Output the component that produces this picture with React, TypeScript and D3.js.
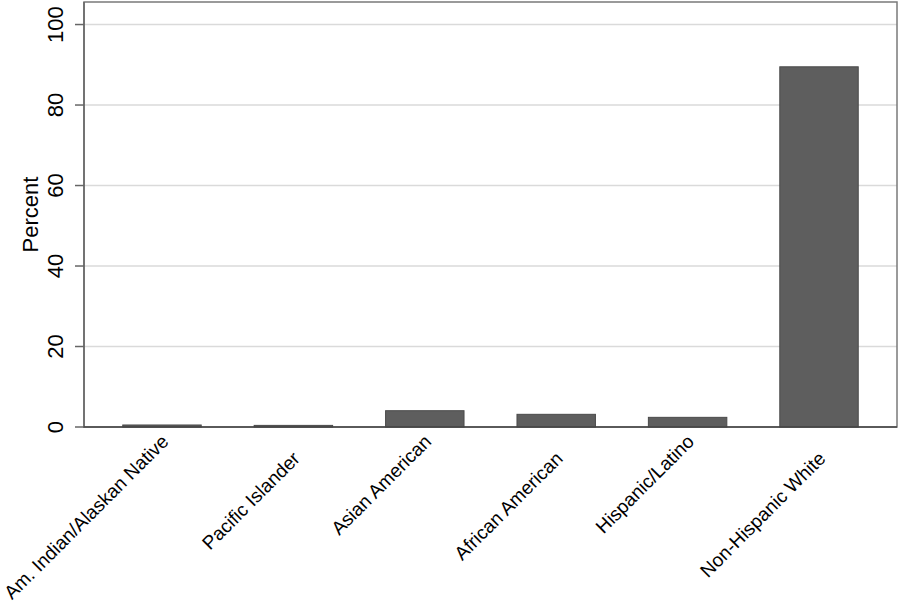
import React from "react";
import * as d3 from "d3";

const categories = [
  "Am. Indian/Alaskan Native",
  "Pacific Islander",
  "Asian American",
  "African American",
  "Hispanic/Latino",
  "Non-Hispanic White",
];
const percents = [0.5, 0.4, 4.05, 3.15, 2.4, 89.5];
const yTicks = [0, 20, 40, 60, 80, 100];
const yLabel = "Percent";

const W = 900;
const H = 603;
const left = 84;
const right = 897;
const top = 2;
const bottom = 427;
const font = "'Liberation Sans', Arial, Helvetica, sans-serif";

export default function App() {
  const x = d3
    .scaleBand<string>()
    .domain(categories)
    .range([left, right])
    .paddingInner(0.403)
    .paddingOuter(0.295);
  const y = d3.scaleLinear().domain([0, 105.6]).range([bottom, top]);

  return (
    <svg
      width={W}
      height={H}
      style={{ position: "absolute", left: 0, top: 0, display: "block", background: "#fff" }}
      fontFamily={font}
    >
      <rect x={0} y={0} width={W} height={H} fill="#fff" />
      {yTicks
        .filter((t) => t > 0)
        .map((t) => (
          <line
            key={"g" + t}
            x1={left}
            x2={right}
            y1={y(t)}
            y2={y(t)}
            stroke="#dadada"
            strokeWidth={1.5}
          />
        ))}
      <rect
        x={left}
        y={top}
        width={right - left}
        height={bottom - top}
        fill="none"
        stroke="#7a7a7a"
        strokeWidth={1.5}
      />
      {categories.map((c, i) => (
        <rect
          key={c}
          x={x(c)!}
          y={y(percents[i])}
          width={x.bandwidth()}
          height={y(0) - y(percents[i])}
          fill="#5e5e5e"
          stroke="#4a4a4a"
          strokeWidth={1}
        />
      ))}
      <line x1={left} x2={left} y1={top} y2={bottom} stroke="#666" strokeWidth={1.5} />
      <line x1={left - 1} x2={right} y1={bottom} y2={bottom} stroke="#444" strokeWidth={1.5} />
      {yTicks.map((t) => (
        <g key={"t" + t}>
          <line x1={75} x2={left} y1={y(t)} y2={y(t)} stroke="#666" strokeWidth={1.5} />
          <text
            transform={`translate(63,${y(t)}) rotate(-90)`}
            textAnchor="middle"
            fontSize={22}
            fill="#000"
          >
            {t}
          </text>
        </g>
      ))}
      <text
        transform={`translate(38,${(top + bottom) / 2}) rotate(-90)`}
        textAnchor="middle"
        fontSize={22}
        fill="#000"
      >
        {yLabel}
      </text>
      {categories.map((c, i) => {
        const cx = x(c)! + x.bandwidth() / 2;
        const yy = 438 + (i % 2) * 17;
        return (
          <text
            key={"l" + c}
            transform={`translate(${cx + 3},${yy}) rotate(-45)`}
            textAnchor="end"
            dy="0.35em"
            fontSize={19}
            fill="#000"
          >
            {c}
          </text>
        );
      })}
    </svg>
  );
}
